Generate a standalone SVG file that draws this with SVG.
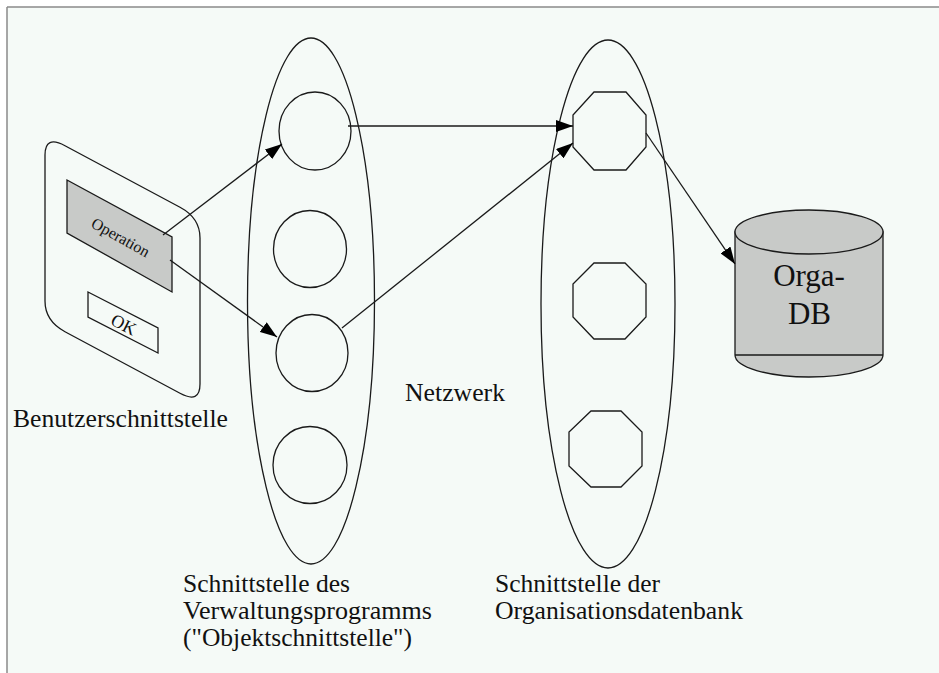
<svg xmlns="http://www.w3.org/2000/svg" width="939" height="673" viewBox="0 0 939 673">
<style>
  .ln { fill: none; stroke: #1a1a1a; stroke-width: 1.3; }
  .sh { fill: none; stroke: #1a1a1a; stroke-width: 1.3; }
  .gray { fill: #c8cac8; stroke: #1a1a1a; stroke-width: 1.3; }
  text { font-family: 'Liberation Serif', 'DejaVu Serif', serif; fill: #111; }
</style>
<defs>
  <marker id="ah" markerUnits="userSpaceOnUse" markerWidth="18" markerHeight="12" refX="17" refY="6" orient="auto">
    <path d="M0,0 L17,6 L0,12 Z" fill="#000"/>
  </marker>
</defs>
<rect x="0" y="0" width="939" height="673" fill="#ffffff"/>
<rect x="7" y="7" width="932" height="666" fill="#f5faf7"/>
<line x1="7" y1="7" x2="939" y2="7" stroke="#8a8a8a" stroke-width="1.5"/>
<line x1="7" y1="7" x2="7" y2="673" stroke="#8a8a8a" stroke-width="1.5"/>

<g id="benutzerschnittstelle">
  <path class="sh" d="M65,145.7 L180,207.3 Q200,218 200,238 L200,384 Q200,404 180,393.3 L65,331.7 Q45,321 45,301 L45,155 Q45,135 65,145.7 Z"/>
  <path class="gray" d="M67,180 L172,237 L172,292 L67,233 Z"/>
  <text font-family="Liberation Serif, serif" x="0" y="0" font-size="16" text-anchor="middle" transform="translate(118,242) rotate(29)">Operation</text>
  <path class="sh" d="M88,292 L158,328 L158,353 L88,317 Z"/>
  <text font-family="Liberation Serif, serif" x="0" y="0" font-size="18" text-anchor="middle" transform="translate(121,330) rotate(27)">OK</text>
  <text font-family="Liberation Serif, serif" x="13" y="427" font-size="25.5" textLength="215" lengthAdjust="spacingAndGlyphs">Benutzerschnittstelle</text>
</g>

<g id="objektschnittstelle">
  <ellipse class="sh" cx="311" cy="301" rx="63.5" ry="263"/>
  <ellipse class="sh" cx="315" cy="131" rx="36" ry="39"/>
  <ellipse class="sh" cx="310" cy="249" rx="36.5" ry="38.5"/>
  <ellipse class="sh" cx="312" cy="353" rx="36" ry="38.5"/>
  <ellipse class="sh" cx="310" cy="465" rx="37" ry="38.5"/>
  <text font-family="Liberation Serif, serif" font-size="25.5" x="183" y="592" textLength="167" lengthAdjust="spacingAndGlyphs">Schnittstelle des</text>
  <text font-family="Liberation Serif, serif" font-size="25.5" x="183" y="619" textLength="249" lengthAdjust="spacingAndGlyphs">Verwaltungsprogramms</text>
  <text font-family="Liberation Serif, serif" font-size="25.5" x="183" y="646">("Objektschnittstelle")</text>
</g>

<g id="netzwerk">
  <text font-family="Liberation Serif, serif" font-size="26" x="405" y="401" textLength="100" lengthAdjust="spacingAndGlyphs">Netzwerk</text>
</g>

<g id="organisationsdatenbank-schnittstelle">
  <ellipse class="sh" cx="608" cy="304" rx="67" ry="264"/>
  <polygon class="sh" points="594,92 626,92 646,115 646,147 626,170 594,170 573,147 573,115"/>
  <polygon class="sh" points="594,263 625,263 646,284 646,317 625,339 594,339 573,317 573,284"/>
  <polygon class="sh" points="591,411 621,411 642,432 642,466 621,487 591,487 569,466 569,432"/>
  <text font-family="Liberation Serif, serif" font-size="25.5" x="495" y="592" textLength="165" lengthAdjust="spacingAndGlyphs">Schnittstelle der</text>
  <text font-family="Liberation Serif, serif" font-size="25.5" x="495" y="619" textLength="248" lengthAdjust="spacingAndGlyphs">Organisationsdatenbank</text>
</g>

<g id="orga-db">
  <path class="gray" d="M735,232 L735,355 A74,22 0 0 0 883,355 L883,232 Z"/>
  <line x1="735" y1="355" x2="883" y2="355" stroke="#1a1a1a" stroke-width="1.3"/>
  <ellipse class="gray" cx="809" cy="232" rx="74" ry="22"/>
  <text font-family="Liberation Serif, serif" font-size="31" x="809" y="286" text-anchor="middle">Orga-</text>
  <text font-family="Liberation Serif, serif" font-size="31" x="809.5" y="324" text-anchor="middle">DB</text>
</g>

<g id="connectors">
  <line class="ln" x1="163" y1="235" x2="282" y2="144" marker-end="url(#ah)"/>
  <line class="ln" x1="170" y1="260" x2="277" y2="337" marker-end="url(#ah)"/>
  <line class="ln" x1="348" y1="126" x2="573" y2="126" marker-end="url(#ah)"/>
  <line class="ln" x1="342" y1="328" x2="573" y2="143" marker-end="url(#ah)"/>
  <line class="ln" x1="646" y1="133" x2="735" y2="264" marker-end="url(#ah)"/>
</g>
</svg>
